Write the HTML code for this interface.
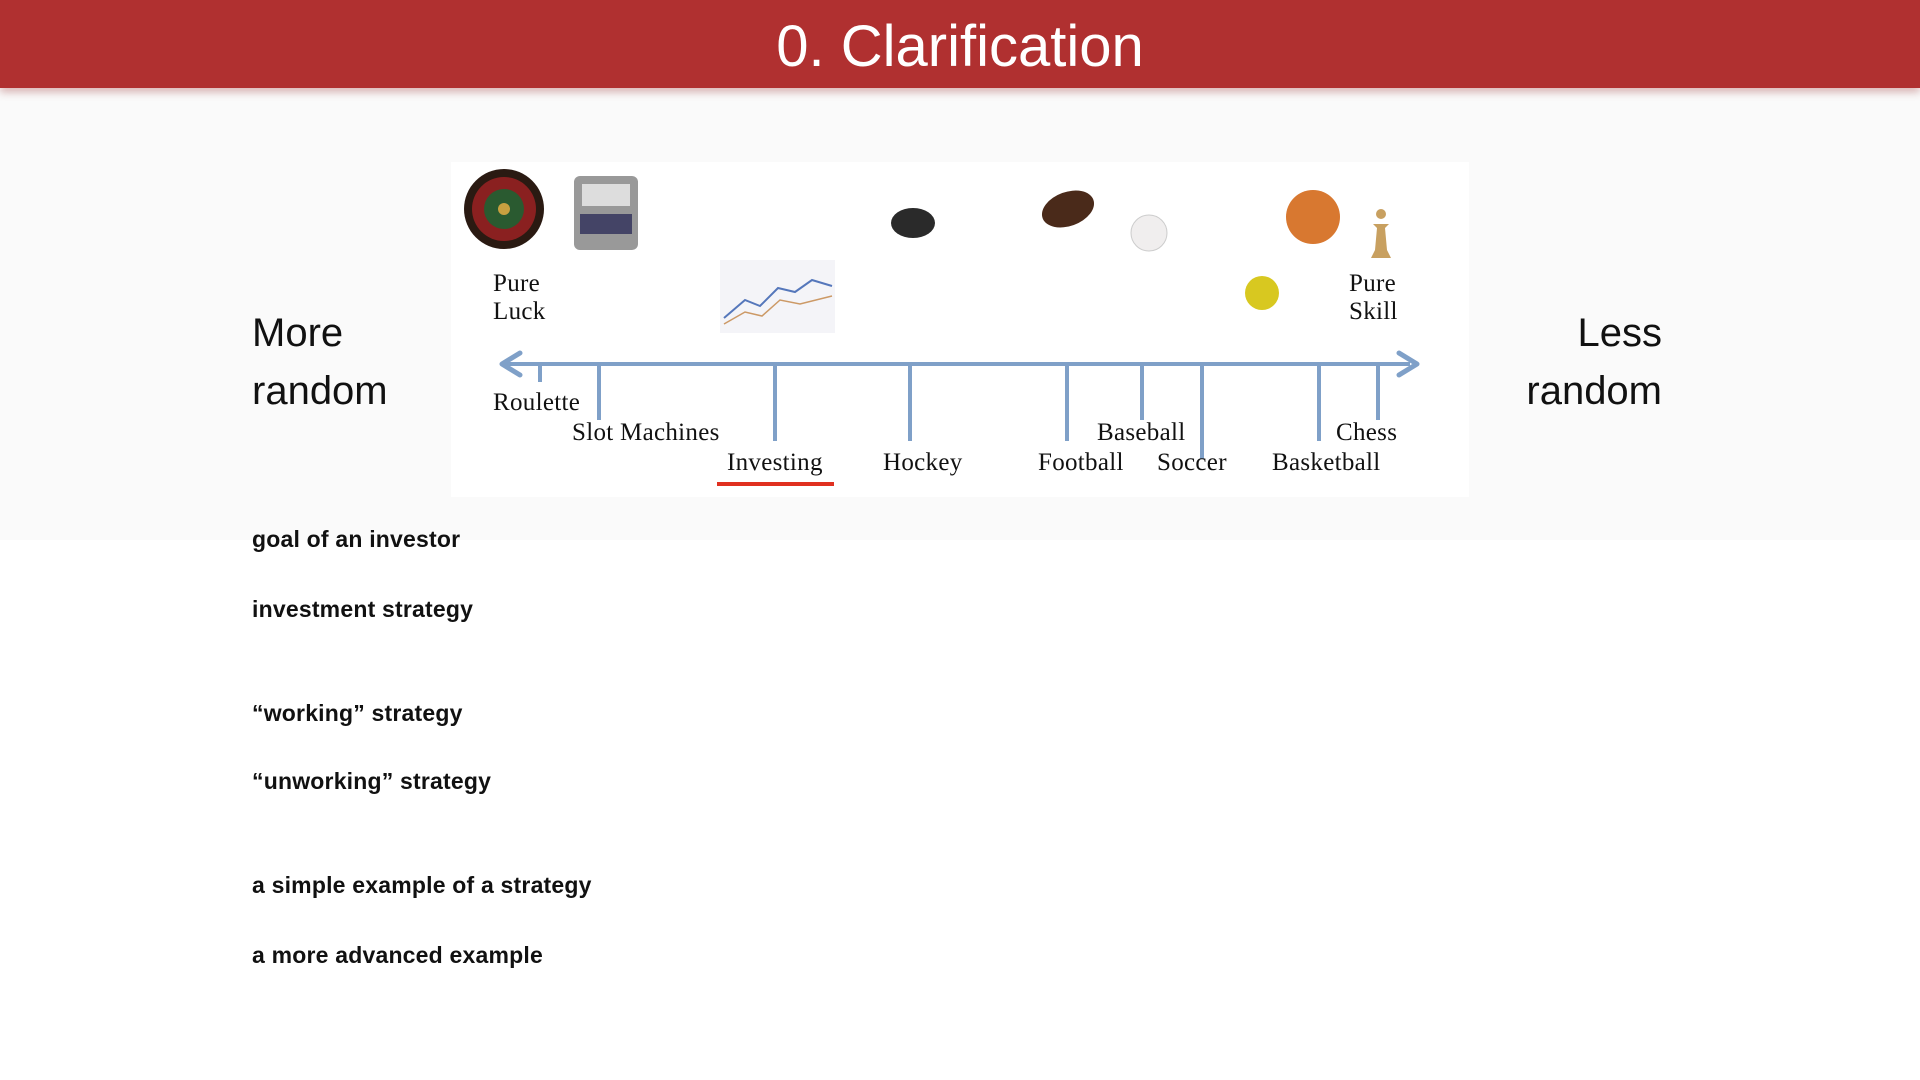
<!DOCTYPE html>
<html><head><meta charset="utf-8"><style>
body{margin:0;width:1920px;height:1080px;position:relative;background:#fff;overflow:hidden;font-family:"Liberation Sans",sans-serif}
.hdr{position:absolute;left:0;top:0;width:1920px;height:88px;background:#b03030;box-shadow:0 4px 8px rgba(150,40,40,.35)}
.ttl{position:absolute;left:0;width:1920px;top:14px;text-align:center;color:#fff;font-size:58px;line-height:66px}
.band{position:absolute;left:0;top:90px;width:1920px;height:450px;background:#fafafa}
.box{position:absolute;left:451px;top:162px;width:1018px;height:335px;background:#fff}
.s{position:absolute;font-family:"Liberation Serif",serif;font-size:25px;letter-spacing:0.3px;color:#111;line-height:28px}
.big{position:absolute;font-size:40px;color:#111;line-height:58px}
.b{position:absolute;left:252px;font-weight:bold;font-size:23px;letter-spacing:0.2px;color:#111;line-height:26px}
</style></head><body>
<div class="band"></div>
<div class="hdr"></div>
<div class="ttl">0. Clarification</div>
<div class="box"></div>
<svg style="position:absolute;left:0;top:0" width="1920" height="1080">
<g stroke="#7fa0c8" stroke-width="4">
<line x1="506" y1="364" x2="1410" y2="364"/>
<line x1="540" y1="364" x2="540" y2="382"/>
<line x1="599" y1="364" x2="599" y2="420"/>
<line x1="775" y1="364" x2="775" y2="441"/>
<line x1="910" y1="364" x2="910" y2="441"/>
<line x1="1067" y1="364" x2="1067" y2="441"/>
<line x1="1142" y1="364" x2="1142" y2="420"/>
<line x1="1202" y1="364" x2="1202" y2="459"/>
<line x1="1319" y1="364" x2="1319" y2="441"/>
<line x1="1378" y1="364" x2="1378" y2="420"/>
</g>
<path d="M502 364 L520 353 M502 364 L520 375 M1417 364 L1399 353 M1417 364 L1399 375" stroke="#7fa0c8" stroke-width="5" stroke-linecap="round"/>
<line x1="717" y1="484" x2="834" y2="484" stroke="#e03020" stroke-width="4"/>
<circle cx="504" cy="209" r="40" fill="#2a1a12"/>
<circle cx="504" cy="209" r="32" fill="#8a2020"/>
<circle cx="504" cy="209" r="20" fill="#2a5a30"/>
<circle cx="504" cy="209" r="6" fill="#c8a040"/>
<rect x="574" y="176" width="64" height="74" rx="6" fill="#999"/>
<rect x="582" y="184" width="48" height="22" fill="#ddd"/>
<rect x="580" y="214" width="52" height="20" fill="#446"/>
<rect x="720" y="260" width="115" height="73" fill="#f4f4f8"/>
<polyline points="724,318 745,300 760,306 778,288 795,292 812,280 832,286" fill="none" stroke="#5577bb" stroke-width="2"/>
<polyline points="724,324 745,312 762,316 780,300 800,304 832,296" fill="none" stroke="#cc9966" stroke-width="1.5"/>
<ellipse cx="913" cy="223" rx="22" ry="15" fill="#2a2a2a"/>
<ellipse cx="1068" cy="209" rx="27" ry="17" fill="#4a2a1a" transform="rotate(-20 1068 209)"/>
<circle cx="1149" cy="233" r="18" fill="#f0eeee" stroke="#ccc"/>
<circle cx="1313" cy="217" r="27" fill="#d87830"/>
<circle cx="1262" cy="293" r="17" fill="#d8c820"/>
<path d="M1371 258 h20 l-4 -8 l-2 -22 l4 -4 h-16 l4 4 l-2 22 z" fill="#c8a060"/>
<circle cx="1381" cy="214" r="5" fill="#c8a060"/>
</svg>
<div class="s" style="left:493px;top:270px">Pure<br>Luck</div>
<div class="s" style="left:1349px;top:270px">Pure<br>Skill</div>
<div class="s" style="left:493px;top:389px">Roulette</div>
<div class="s" style="left:572px;top:419px">Slot Machines</div>
<div class="s" style="left:727px;top:449px">Investing</div>
<div class="s" style="left:883px;top:449px">Hockey</div>
<div class="s" style="left:1097px;top:419px">Baseball</div>
<div class="s" style="left:1038px;top:449px">Football</div>
<div class="s" style="left:1157px;top:449px">Soccer</div>
<div class="s" style="left:1336px;top:419px">Chess</div>
<div class="s" style="left:1272px;top:449px">Basketball</div>
<div class="big" style="left:252px;top:304px">More<br>random</div>
<div class="big" style="left:1442px;width:220px;text-align:right;top:304px">Less<br>random</div>
<div class="b" style="top:526px">goal of an investor</div>
<div class="b" style="top:596px">investment strategy</div>
<div class="b" style="top:700px">“working” strategy</div>
<div class="b" style="top:768px">“unworking” strategy</div>
<div class="b" style="top:872px">a simple example of a strategy</div>
<div class="b" style="top:942px">a more advanced example</div>
</body></html>
